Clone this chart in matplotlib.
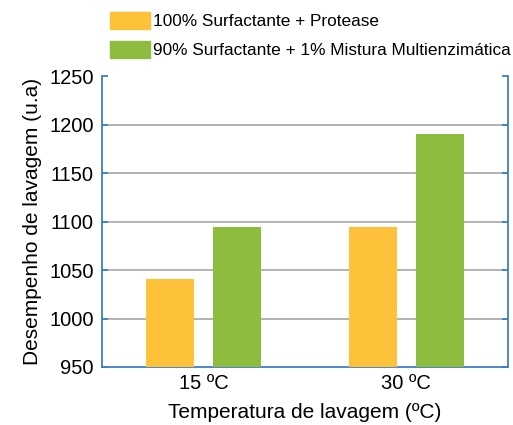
import matplotlib.pyplot as plt
from matplotlib.patches import Patch
import numpy as np

plt.rcParams['font.family'] = ['Liberation Sans', 'DejaVu Sans']

# dados
categorias = ['15 ºC', '30 ºC']
protease = [1041, 1094]
multienzimatica = [1094, 1190]
rotulos = ['100% Surfactante + Protease', '90% Surfactante + 1% Mistura Multienzimática']
cor_laranja = '#FDC13A'
cor_verde = '#8EBC3F'
cor_eixo = '#3F7FC8'

fig = plt.figure(figsize=(5.13, 4.25), dpi=100)
ax = fig.add_axes([0.199, 0.1365, 0.791, 0.6845])

x = np.arange(len(categorias))
w = 0.24
ax.bar(x - 0.165, protease, w, color=cor_laranja, zorder=3)
ax.bar(x + 0.165, multienzimatica, w, color=cor_verde, zorder=3)

ax.set_xlim(-0.5, 1.5)
ax.set_ylim(950, 1250)
ax.set_yticks(range(950, 1251, 50))
ax.set_xticks(x)
ax.set_xticklabels(categorias)

# grade horizontal
for v in range(1000, 1250, 50):
    ax.axhline(v, color='#A6A6A6', lw=1.2, zorder=1)

ax.spines['top'].set_visible(False)
for s in ['left', 'right', 'bottom']:
    ax.spines[s].set_color(cor_eixo)
    ax.spines[s].set_linewidth(1.3)

ax.tick_params(axis='y', direction='in', left=True, right=True, length=4,
               color=cor_eixo, width=1.3, labelsize=14.5, pad=6)
ax.tick_params(axis='x', length=0, labelsize=14.5, pad=5)

ax.set_xlabel('Temperatura de lavagem (ºC)', fontsize=15, labelpad=7)
ax.set_ylabel('Desempenho de lavagem (u.a)', fontsize=15, labelpad=5)

handles = [Patch(color=cor_laranja), Patch(color=cor_verde)]
fig.legend(handles, rotulos, loc='upper left', bbox_to_anchor=(0.19, 1.0),
           frameon=False, fontsize=12.4, handlelength=2.35, handleheight=1.15,
           handletextpad=0.2, labelspacing=0.65, borderaxespad=0.3)

fig.savefig('out.png', dpi=100)
